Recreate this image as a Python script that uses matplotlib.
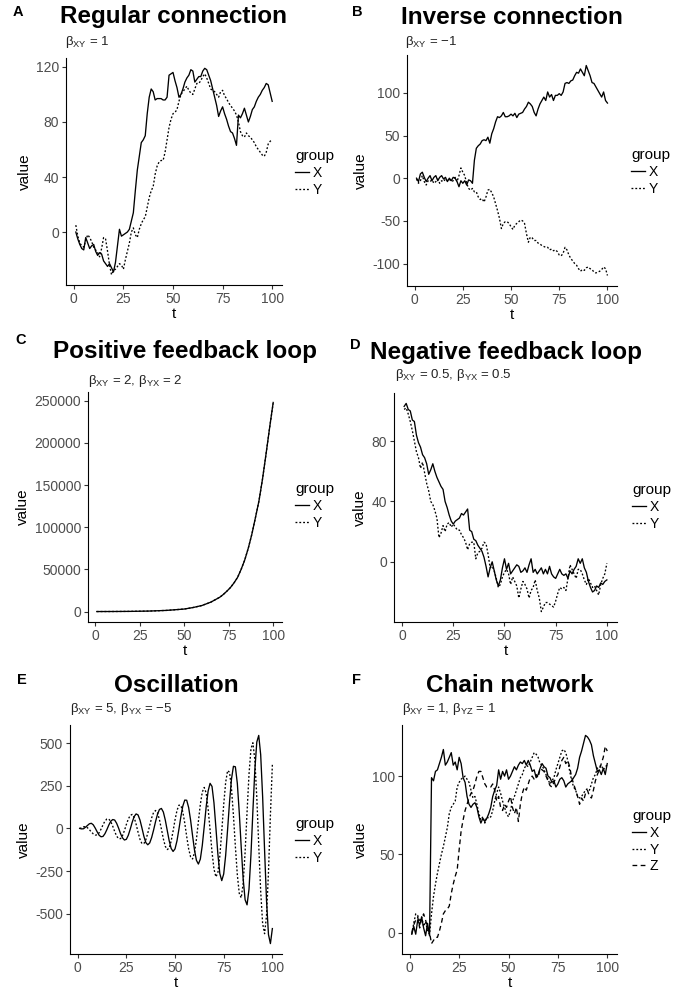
import matplotlib
matplotlib.use('Agg')
import matplotlib.pyplot as plt

plt.rcParams['font.family'] = ['Liberation Sans', 'DejaVu Sans']
plt.rcParams['mathtext.fontset'] = 'custom'
plt.rcParams['mathtext.rm'] = 'Liberation Sans'
plt.rcParams['mathtext.it'] = 'Liberation Sans:italic'
plt.rcParams['mathtext.bf'] = 'Liberation Sans:bold'
plt.rcParams['axes.unicode_minus'] = False

# ---------------- data ----------------
t = list(range(1, 101))
x_ticks = [0, 25, 50, 75, 100]

a_x = [0,-5,-9,-12,-13,-4,-8,-12,-10,-9, -14,-17,-15,-16,-21,-23,-25,-23,-26,-29,
       -22,-10,2,-3,-2,-1,0,2,8,14, 30,45,55,65,67,70,86,98,104,102,
       96,97,97,97,96,96,98,114,115,116, 110,105,98,100,104,109,112,114,118,117,
       109,111,113,113,117,119,118,114,110,104, 98,92,84,88,91,86,82,77,73,72,
       68,63,85,83,86,90,85,80,84,89, 91,95,98,100,103,105,108,107,101,95]
a_y = [5,-3,-8,-10,-11,-6,-2,-4,-7,-11, -13,-15,-18,-12,-4,-5,-14,-24,-31,-28,
       -27,-25,-23,-24,-27,-20,-14,-8,0,3, -2,-4,2,6,9,11,18,25,30,33,
       42,48,51,52,52,58,67,76,82,86, 87,89,95,100,102,104,106,103,101,100,
       104,108,108,110,113,115,112,108,104,103, 102,100,98,102,103,99,97,94,92,90,
       88,85,80,73,70,69,72,70,69,67, 65,62,60,58,56,55,58,64,66,67]

b_x = [0,-4,5,7,1,-4,0,3,-3,1, 3,-3,1,3,-1,1,-4,0,-3,1,
       0,-4,-10,-3,-6,-3,-8,-2,-3,-6, 21,35,38,40,44,45,44,48,41,52,
       58,66,72,71,73,77,72,72,73,75, 73,76,71,75,76,77,81,84,89,87,
       84,77,73,81,87,91,95,91,101,95, 98,91,97,97,99,97,101,111,112,111,
       114,115,120,124,123,128,124,120,132,126, 120,112,111,107,103,99,95,101,91,88]
b_y = [-1,-6,-3,3,-4,-8,-3,-4,-2,-6, -4,-1,-6,-3,-4,-1,-3,-1,-4,-3,
       1,-4,3,12,7,3,-6,-12,-14,-12, -16,-16,-22,-25,-24,-28,-22,-14,-13,-17,
       -22,-30,-38,-47,-59,-53,-51,-51,-53,-57, -60,-55,-53,-51,-49,-50,-53,-65,-75,-69,
       -70,-73,-73,-76,-77,-79,-80,-81,-81,-84, -83,-85,-84,-86,-90,-91,-88,-81,-84,-90,
       -94,-97,-100,-102,-106,-109,-107,-108,-105,-104, -106,-107,-110,-111,-110,-109,-107,-104,-106,-114]

c_t = [1, 10, 20, 30, 40, 50, 55, 60, 65, 70, 72, 74, 76, 78, 80, 82, 84, 86, 88,
       90, 92, 94, 96, 98, 100]
c_x = [50, 100, 250, 600, 1400, 3000, 4800, 7200, 11200, 17000, 20300, 24200, 28500,
       34000, 40500, 50000, 61000, 75000, 91500, 111000, 131000, 157000, 187000,
       218000, 248000]
c_y = [50, 100, 250, 600, 1400, 3000, 4800, 7200, 11200, 17000, 20300, 24200, 28500,
       34000, 40500, 50000, 61000, 75000, 91500, 111000, 131000, 157000, 187000,
       218000, 247000]

d_x = [103,105,101,100,94,93,84,79,76,71, 69,65,58,61,65,60,56,53,50,48,
       40,36,31,27,25,27,28,29,32,31, 33,35,21,20,15,14,11,9,7,3,
       -3,-10,-4,0,-6,-12,-16,-12,-4,2, -5,-1,-8,-6,-4,-2,-3,-7,-6,-4,
       -7,-2,2,-7,-5,-8,-6,-4,-8,-5, -8,-3,-8,-10,-11,-8,-5,-8,-9,-8,
       -11,-6,-8,-5,-3,2,-1,2,-4,-7, -13,-17,-20,-19,-16,-17,-14,-15,-13,-12]
d_y = [101,102,98,93,87,80,73,69,62,66, 59,52,47,40,38,34,29,16,19,24,
       20,25,26,23,25,23,21,21,18,16, 13,8,12,13,13,2,6,7,9,13,
       12,5,-4,-3,-6,-11,-17,-15,-10,-7, -5,-8,-15,-10,-13,-16,-24,-18,-13,-15,
       -18,-24,-19,-17,-12,-19,-24,-33,-30,-27, -27,-28,-29,-30,-26,-21,-17,-18,-17,-19,
       -11,-2,-5,-8,-11,-5,-5,-8,-12,-15, -11,-14,-17,-16,-19,-22,-15,-11,-8,-1]

e_x = [0,-3,-2,7,17,27,30,21,2,-20, -40,-49,-47,-31,-7,20,42,52,49,30,
       2,-30,-55,-68,-64,-40,-4,36,69,85, 79,49,3,-46,-83,-96,-85,-53,-9,40,
       83,111,117,96,49,-12,-72,-117,-135,-120, -73,-5,69,131,166,165,122,48,-42,-127,
       -187,-209,-180,-100,11,127,219,264,246,150, 4,-149,-264,-306,-267,-159,-7,155,289,364,
       361,264,93,-110,-296,-418,-448,-356,-155,102, 343,506,545,432,186,-127,-423,-622,-675,-587]
e_y = [0,3,9,11,4,-7,-21,-32,-39,-38, -26,-4,21,43,55,55,40,13,-18,-45,
       -60,-60,-43,-13,23,55,76,82,64,25, -22,-64,-89,-89,-67,-28,18,62,94,105,
       91,51,-4,-61,-105,-124,-115,-75,-16,50, 105,136,135,97,31,-48,-120,-167,-179,-142,
       -63,41,141,213,240,207,116,-9,-138,-238, -284,-260,-163,-18,139,269,339,329,234,77,
       -106,-272,-381,-407,-323,-139,96,317,466,502, 401,182,-99,-369,-558,-617,-511,-257,79,374]

f_x = [-1,4,-1,8,5,10,3,-2,6,-2, 99,97,103,104,108,112,117,107,109,112,
       115,107,109,104,112,108,99,96,87,82, 80,82,83,80,74,70,73,71,73,76,
       80,87,91,94,104,98,103,100,104,98, 100,103,106,104,107,109,108,110,107,110,
       107,103,104,99,101,105,108,106,105,100, 99,96,97,93,95,98,99,97,93,95,
       96,97,99,101,105,112,116,121,126,125, 123,120,113,108,103,104,101,105,101,108]
f_y = [-1,6,12,11,7,10,4,7,1,-1, 12,23,31,38,44,50,55,61,67,76,
       80,82,84,93,96,98,99,100,98,96, 91,86,87,82,76,72,74,70,74,73,
       74,78,84,89,93,89,84,80,76,74, 78,84,87,91,95,99,101,105,107,106,
       109,112,115,114,112,108,107,104,101,98, 95,97,99,104,108,112,116,117,115,110,
       103,97,93,91,87,86,87,89,91,92, 91,95,99,101,105,106,107,104,106,107]
f_z = [0,5,8,10,3,9,12,8,3,0, -7,-5,-3,-3,1,6,12,14,15,17,
       25,31,36,40,53,65,72,78,82,86, 89,91,95,100,103,103,99,95,93,93,
       93,95,91,84,87,80,78,82,80,84, 87,80,76,80,71,82,89,93,91,95,
       99,100,98,101,99,105,104,103,100,97, 94,93,96,99,101,106,110,112,108,110,
       106,99,95,91,87,82,86,84,89,91, 87,86,91,97,101,104,108,112,119,116]

titles = ["Regular connection", "Inverse connection", "Positive feedback loop",
          "Negative feedback loop", "Oscillation", "Chain network"]
subtitles = [r"$\mathregular{β_{XY}}$ = 1",
             r"$\mathregular{β_{XY}}$ = $\mathregular{-}$1",
             r"$\mathregular{β_{XY}}$ = 2, $\mathregular{β_{YX}}$ = 2",
             r"$\mathregular{β_{XY}}$ = 0.5, $\mathregular{β_{YX}}$ = 0.5",
             r"$\mathregular{β_{XY}}$ = 5, $\mathregular{β_{YX}}$ = $\mathregular{-}$5",
             r"$\mathregular{β_{XY}}$ = 1, $\mathregular{β_{YZ}}$ = 1"]
tags = ["A", "B", "C", "D", "E", "F"]
y_ticks = [[0, 40, 80, 120], [-100, -50, 0, 50, 100],
           [0, 50000, 100000, 150000, 200000, 250000], [0, 40, 80],
           [-500, -250, 0, 250, 500], [0, 50, 100]]
groups = [["X", "Y"], ["X", "Y"], ["X", "Y"], ["X", "Y"], ["X", "Y"], ["X", "Y", "Z"]]
panel_data = [[(t, a_x), (t, a_y)], [(t, b_x), (t, b_y)], [(c_t, c_x), (c_t, c_y)],
              [(t, d_x), (t, d_y)], [(t, e_x), (t, e_y)], [(t, f_x), (t, f_y), (t, f_z)]]

# ---------------- layout (pixels) ----------------
W, H = 683, 989
fig = plt.figure(figsize=(W / 100, H / 100), dpi=100)

def fx(x):
    return x / W

def fy(y):
    return 1 - y / H

axes_px = [(66, 58, 282, 285), (407, 55, 617, 286), (88, 392, 282, 622),
           (394, 393, 617, 622), (70, 725, 282, 954), (402, 725, 617, 954)]
title_y = [17, 17, 352, 353, 685, 686]
sub_xy = [(65, 42), (405, 42), (88, 381), (395, 375), (70, 709), (402, 709)]
tag_xy = [(13, 12), (352, 12), (15, 340), (350, 345), (17, 680), (352, 680)]
leg_xy = [(295, 149), (631, 148), (295, 482), (632, 483), (295, 817), (632, 809)]

styles = ['-', (0, (1.4, 1.5)), (0, (3.6, 2.6))]
LW = 0.95
tick_col = '#4D4D4D'

for i in range(6):
    l, tp, r, b = axes_px[i]
    ax = fig.add_axes([fx(l), fy(b), fx(r - l), (b - tp) / H])
    handles = []
    for (tt, vv), ls, g in zip(panel_data[i], styles, groups[i]):
        h, = ax.plot(tt, vv, color='black', linestyle=ls, linewidth=LW, label=g)
        handles.append(h)
    ax.margins(x=0.05, y=0.05)
    ax.set_xticks(x_ticks)
    ax.set_yticks(y_ticks[i])
    for s in ['top', 'right']:
        ax.spines[s].set_visible(False)
    for s in ['left', 'bottom']:
        ax.spines[s].set_linewidth(0.8)
    ax.tick_params(axis='both', length=3, width=0.8, color='#333333',
                   labelsize=10, labelcolor=tick_col, pad=2)
    ax.set_xlabel('t', fontsize=11, labelpad=1)
    ax.set_ylabel('value', fontsize=11, labelpad=3)
    ax.set_facecolor('white')
    # title, subtitle, tag
    fig.text(fx((l + r) / 2), fy(title_y[i]), titles[i], ha='center', va='center',
             fontsize=17.5, fontweight='bold')
    fig.text(fx(sub_xy[i][0]), fy(sub_xy[i][1]), subtitles[i], ha='left',
             va='center', fontsize=9.5, color='#222222')
    fig.text(fx(tag_xy[i][0]), fy(tag_xy[i][1]), tags[i], ha='left', va='center',
             fontsize=10.5, fontweight='bold')
    ax.legend(handles=handles, title='group', loc='upper left',
              bbox_to_anchor=(fx(leg_xy[i][0]), fy(leg_xy[i][1])),
              bbox_transform=fig.transFigure, frameon=False,
              handlelength=1.0, handletextpad=0.25, labelspacing=0.2,
              borderpad=0, borderaxespad=0, fontsize=10, title_fontsize=11,
              alignment='left')

fig.savefig('out.png', dpi=100, facecolor='white')
